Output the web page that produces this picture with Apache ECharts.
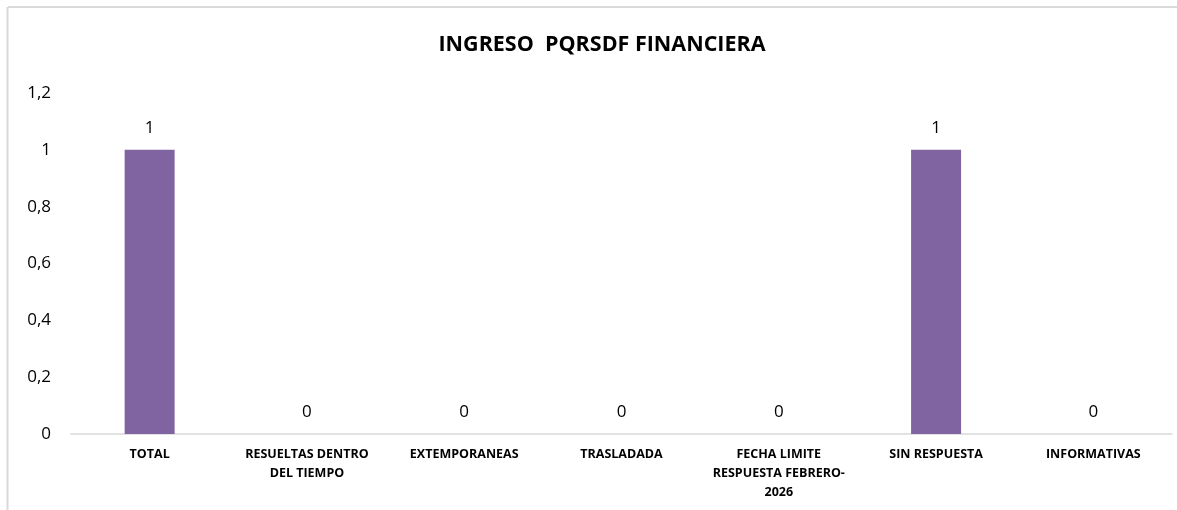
<!DOCTYPE html>
<html>
<head>
<meta charset="utf-8">
<script src="https://cdn.jsdelivr.net/npm/echarts@6/dist/echarts.min.js"></script>
<style>
html,body{margin:0;padding:0;background:#fff;overflow:hidden;}
#chart{width:1177px;height:510px;}
</style>
</head>
<body>
<div id="chart"></div>
<script>
const categories = ["TOTAL", "RESUELTAS DENTRO DEL TIEMPO", "EXTEMPORANEAS", "TRASLADADA", "FECHA LIMITE RESPUESTA FEBRERO-2026", "SIN RESPUESTA", "INFORMATIVAS"];
const tickLabels = ["TOTAL", "RESUELTAS DENTRO\nDEL TIEMPO", "EXTEMPORANEAS", "TRASLADADA", "FECHA LIMITE\nRESPUESTA FEBRERO-\n2026", "SIN RESPUESTA", "INFORMATIVAS"];
const values = [1, 0, 0, 0, 0, 1, 0];
const yTicks = [0, 0.2, 0.4, 0.6, 0.8, 1, 1.2];

const FONT = "'Open Sans', sans-serif";
const chart = echarts.init(document.getElementById('chart'), null, {renderer: 'canvas'});
chart.setOption({
  backgroundColor: '#fff',
  animation: false,
  graphic: [
    {type: 'line', shape: {x1: 8, y1: 7, x2: 1177, y2: 7}, style: {stroke: '#d9d9d9', lineWidth: 2}, silent: true},
    {type: 'line', shape: {x1: 7.5, y1: 7, x2: 7.5, y2: 510}, style: {stroke: '#d9d9d9', lineWidth: 2}, silent: true}
  ],
  title: {
    text: 'INGRESO  PQRSDF FINANCIERA',
    left: 597, top: 29, textAlign: 'center',
    textStyle: {fontFamily: FONT, fontSize: 21.5, fontWeight: 'bold', color: '#000'}
  },
  grid: {left: 71, right: 5, top: 93, bottom: 76, containLabel: false},
  xAxis: {
    type: 'category',
    data: categories,
    axisTick: {show: false},
    axisLine: {lineStyle: {color: '#d9d9d9', width: 1.5}},
    axisLabel: {
      interval: 0, margin: 11,
      fontFamily: FONT, fontSize: 12.5, fontWeight: 'bold', color: '#000', lineHeight: 19,
      formatter: function (v, i) { return tickLabels[i]; }
    }
  },
  yAxis: {
    type: 'value', min: 0, max: 1.2, interval: 0.2,
    splitLine: {show: false},
    axisLine: {show: false}, axisTick: {show: false},
    axisLabel: {
      margin: 20, fontFamily: FONT, fontSize: 17, color: '#000',
      formatter: function (v) {
        const t = yTicks.find(x => Math.abs(x - v) < 1e-9);
        return String(t !== undefined ? t : v).replace('.', ',');
      }
    }
  },
  series: [{
    type: 'bar',
    data: values,
    barWidth: 50,
    itemStyle: {color: '#8064A2'},
    label: {
      show: true, position: 'top', distance: 13,
      fontFamily: FONT, fontSize: 17, color: '#000'
    }
  }]
});
</script>
</body>
</html>
